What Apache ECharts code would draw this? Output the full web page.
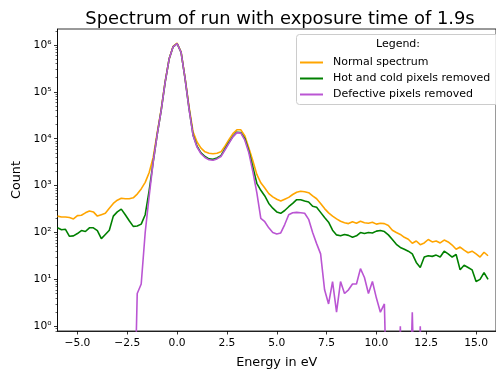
<!DOCTYPE html>
<html><head><meta charset="utf-8">
<script src="https://cdn.jsdelivr.net/npm/echarts@6/dist/echarts.min.js"></script>
<style>html,body{margin:0;padding:0;background:#fff}#c{width:496px;height:374px}</style>
</head><body><div id="c"></div>
<script>
// Energy grid (eV), 0.2 eV bins from -6.0 to 15.6
const energies = Array.from({length: 109}, (_, i) => +(-6 + 0.2 * i).toFixed(1));

const normalCounts = [
  224,214,214,209,195,229,234,263,288,275,
  224,240,257,331,417,490,537,525,525,550,
  661,851,1175,1905,3981,13180,41690,165960,501190,933250,
  1096480,707950,199530,47860,14130,8510,6310,5250,4900,4790,
  4900,5250,6920,9550,12880,15490,15490,11480,6310,3390,
  1738,1148,891,676,575,513,468,513,562,646,
  724,759,741,708,603,525,417,324,263,224,
  195,174,162,155,170,158,174,162,158,166,
  151,158,155,141,112,100,91,79,72,59,
  66,55,60,71,63,66,60,69,63,54,
  44,49,42,37,40,35,30,38,32
];
const hotColdRemoved = [
  126,115,117,83,85,95,110,105,126,126,
  110,74,91,112,224,275,316,240,178,135,
  138,151,240,794,3162,12020,39810,158490,501190,912010,
  1071520,691830,190550,43650,12020,6920,5010,4170,3715,3630,
  3890,4365,6030,8320,11220,13800,13490,10000,5500,2512,
  1122,794,603,417,331,275,257,295,355,417,
  501,501,468,447,363,347,269,209,166,112,
  89,85,91,87,79,85,100,95,100,98,
  107,110,105,89,71,56,48,44,40,35,
  23,18,30,32,31,33,30,40,35,30,
  34,16,20,18,16,9,10,14,10
];
const defectiveRemoved = [
  0,0,0,0,0,0,0,0,0,0,
  0,0,0,0,0,0,0,0,0,0,
  5,8,100,603,3162,12020,39810,158490,501190,912010,
  1071520,691830,190550,42660,11750,6610,4790,3980,3550,3470,
  3715,4170,5750,7940,10960,13490,13180,9330,5010,1995,
  708,200,170,126,100,93,98,148,240,263,
  269,263,257,191,100,58,35,6,3,9,
  2,9,5,6,8,8,17,11,5,9,
  4,2,3,0,0,0,1,0,0,2,
  0,1,0,0,0,0,0,0,0,0,
  0,0,0,0,0,0,0,0,0
];

const seriesNames = ['Normal spectrum', 'Hot and cold pixels removed', 'Defective pixels removed'];
const seriesColors = ['#ffa500', '#008000', '#ba55d3'];
const xTickValues = [-5, -2.5, 0, 2.5, 5, 7.5, 10, 12.5, 15];
const yTickValues = [1, 10, 100, 1000, 10000, 100000, 1000000];
const yMinorTickValues = [0.8, 0.9];
for (let k = 0; k <= 6; k++) for (let m = 2; m <= 9; m++) yMinorTickValues.push(m * Math.pow(10, k));

const FONT = 'DejaVu Sans';
const SUP = {'0':'\u2070','1':'\u00b9','2':'\u00b2','3':'\u00b3','4':'\u2074','5':'\u2075','6':'\u2076','7':'\u2077','8':'\u2078','9':'\u2079'};
const LOG_FLOOR = 1e-3; // zero counts drawn at the floor (clipped), as on a log plot

function toPairs(vals) {
  return energies.map((e, i) => [e, vals[i] > 0 ? vals[i] : LOG_FLOOR]);
}

const chart = echarts.init(document.getElementById('c'), null, {renderer: 'canvas'});
const yMin = Math.pow(10, -0.1), yMax = Math.pow(10, 6.34);
chart.setOption({
  animation: false,
  backgroundColor: '#fff',
  title: {
    text: 'Spectrum of run with exposure time of 1.9s',
    left: 275, top: 5, textAlign: 'center',
    textStyle: {fontFamily: FONT, fontSize: 17.9, fontWeight: 'normal', color: '#000'}
  },
  grid: {left: 57.5, top: 29, right: -7.5, bottom: 40, show: true, borderColor: '#000', borderWidth: 0.8, backgroundColor: 'transparent'},
  xAxis: {
    type: 'value', min: -6, max: 16,
    name: 'Energy in eV', nameLocation: 'middle', nameGap: 25,
    nameTextStyle: {fontFamily: FONT, fontSize: 12.8, color: '#000'},
    axisLine: {show: true, onZero: false, lineStyle: {color: '#000', width: 0.8}},
    axisTick: {show: true, length: 3.5, lineStyle: {color: '#000', width: 0.8}, customValues: xTickValues},
    axisLabel: {fontFamily: FONT, fontSize: 10.7, color: '#000', margin: 7, customValues: xTickValues,
      formatter: v => v.toFixed(1).replace('-', '\u2212')},
    splitLine: {show: false}
  },
  yAxis: [{
    type: 'log', logBase: 10, min: yMin, max: yMax,
    name: 'Count', nameLocation: 'middle', nameGap: 30,
    nameTextStyle: {fontFamily: FONT, fontSize: 12.8, color: '#000'},
    axisLine: {show: true, onZero: false, lineStyle: {color: '#000', width: 0.8}},
    axisTick: {show: true, length: 3.5, lineStyle: {color: '#000', width: 0.8}, customValues: yTickValues},
    axisLabel: {fontFamily: FONT, fontSize: 10.7, color: '#000', margin: 6, customValues: yTickValues,
      formatter: v => '10' + String(Math.round(Math.log10(v))).split('').map(c => SUP[c]).join('')},
    splitLine: {show: false}
  }, {
    type: 'log', logBase: 10, min: yMin, max: yMax, position: 'left',
    axisLine: {show: false, onZero: false},
    axisTick: {show: true, length: 2, lineStyle: {color: '#000', width: 0.6}, customValues: yMinorTickValues},
    axisLabel: {show: false},
    splitLine: {show: false}
  }],
  legend: {
    orient: 'vertical', left: 300, top: 54.5, padding: 0, icon: 'rect', itemWidth: 23, itemHeight: 2, itemGap: 0,
    textStyle: {fontFamily: FONT, fontSize: 11, color: '#000', lineHeight: 16, padding: [0, 0, 0, 5]},
    data: seriesNames
  },
  graphic: [{
    type: 'rect', z: 3, shape: {x: 296.5, y: 34.5, width: 230, height: 70, r: 3},
    style: {fill: 'rgba(255,255,255,0.8)', stroke: '#cccccc', lineWidth: 1}
  }, {
    type: 'text', z: 5, style: {text: 'Legend:', x: 398, y: 44, align: 'center', verticalAlign: 'middle',
      fontFamily: FONT, fontSize: 11, fill: '#000'}
  }],
  series: seriesNames.map((name, i) => ({
    name, type: 'line', xAxisIndex: 0, yAxisIndex: 0,
    data: toPairs([normalCounts, hotColdRemoved, defectiveRemoved][i]),
    showSymbol: false, symbol: 'none', clip: true,
    lineStyle: {color: seriesColors[i], width: 1.6},
    itemStyle: {color: seriesColors[i]},
    z: 2 + i
  }))
});
</script>
</body></html>
